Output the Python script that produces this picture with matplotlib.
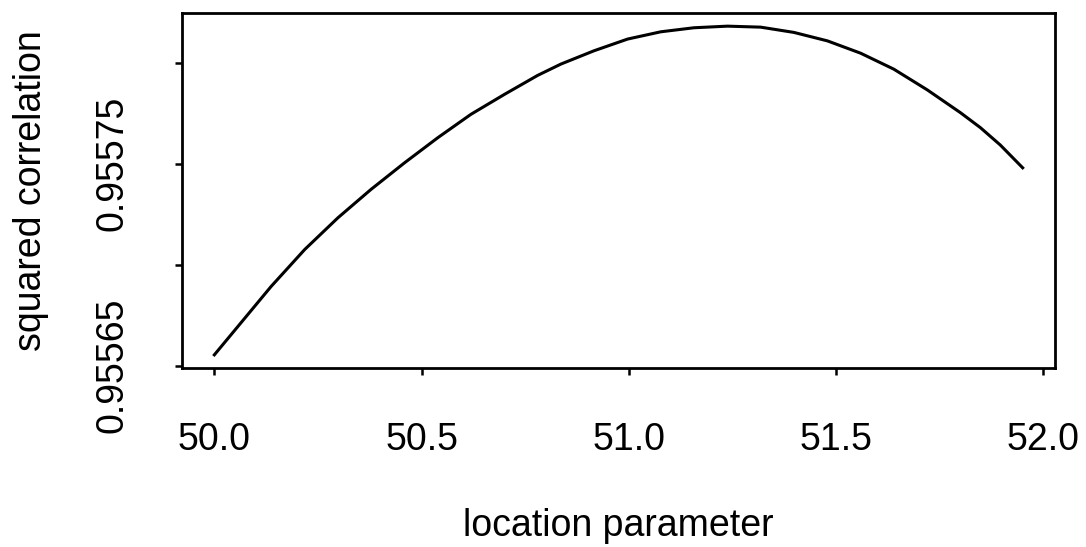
import matplotlib
matplotlib.use("Agg")
import matplotlib.pyplot as plt

plt.rcParams['font.family'] = ['Liberation Sans', 'DejaVu Sans']

# values
location = [50.000, 50.057, 50.137, 50.218, 50.298, 50.378, 50.459, 50.539,
            50.619, 50.700, 50.780, 50.836, 50.916, 50.997, 51.077, 51.157,
            51.238, 51.318, 51.398, 51.479, 51.559, 51.639, 51.720, 51.800,
            51.848, 51.896, 51.950]
sq_corr = [0.9556553, 0.9556694, 0.9556892, 0.9557075, 0.9557232, 0.9557373,
           0.9557505, 0.9557629, 0.9557745, 0.9557844, 0.9557938, 0.9557994,
           0.9558060, 0.9558118, 0.9558154, 0.9558174, 0.9558182, 0.9558177,
           0.9558151, 0.9558109, 0.9558048, 0.9557969, 0.9557866, 0.9557753,
           0.9557679, 0.9557593, 0.9557480]

x_ticks = [50.0, 50.5, 51.0, 51.5, 52.0]
x_tick_labels = ['50.0', '50.5', '51.0', '51.5', '52.0']
y_ticks = [0.95565, 0.95570, 0.95575, 0.95580]
y_tick_labels = ['0.95565', '', '0.95575', '']

fig = plt.figure(figsize=(10.86, 5.47), dpi=100)
ax = fig.add_axes([182 / 1086, 1 - 368 / 547, (1055 - 182) / 1086, (368 - 13) / 547])

ax.plot(location, sq_corr, color='black', linewidth=2.2)

# R style 4% padding around the data range
xr = max(location) - min(location)
yr = max(sq_corr) - min(sq_corr)
ax.set_xlim(min(location) - 0.04 * xr, max(location) + 0.04 * xr)
ax.set_ylim(min(sq_corr) - 0.04 * yr, max(sq_corr) + 0.04 * yr)

ax.set_xticks(x_ticks)
ax.set_xticklabels(x_tick_labels, fontsize=27)
ax.set_yticks(y_ticks)
ax.set_yticklabels(y_tick_labels, fontsize=27, rotation=90, va='center')

ax.tick_params(axis='both', direction='out', length=5, width=1.8, color='black')
ax.tick_params(axis='x', pad=34)
ax.tick_params(axis='y', pad=32)

for sp in ax.spines.values():
    sp.set_linewidth(2.0)
    sp.set_color('black')

ax.set_xlabel('location parameter', fontsize=27, labelpad=36)
ax.set_ylabel('squared correlation', fontsize=27, labelpad=33)

fig.savefig('out.png', dpi=100, facecolor='white')
